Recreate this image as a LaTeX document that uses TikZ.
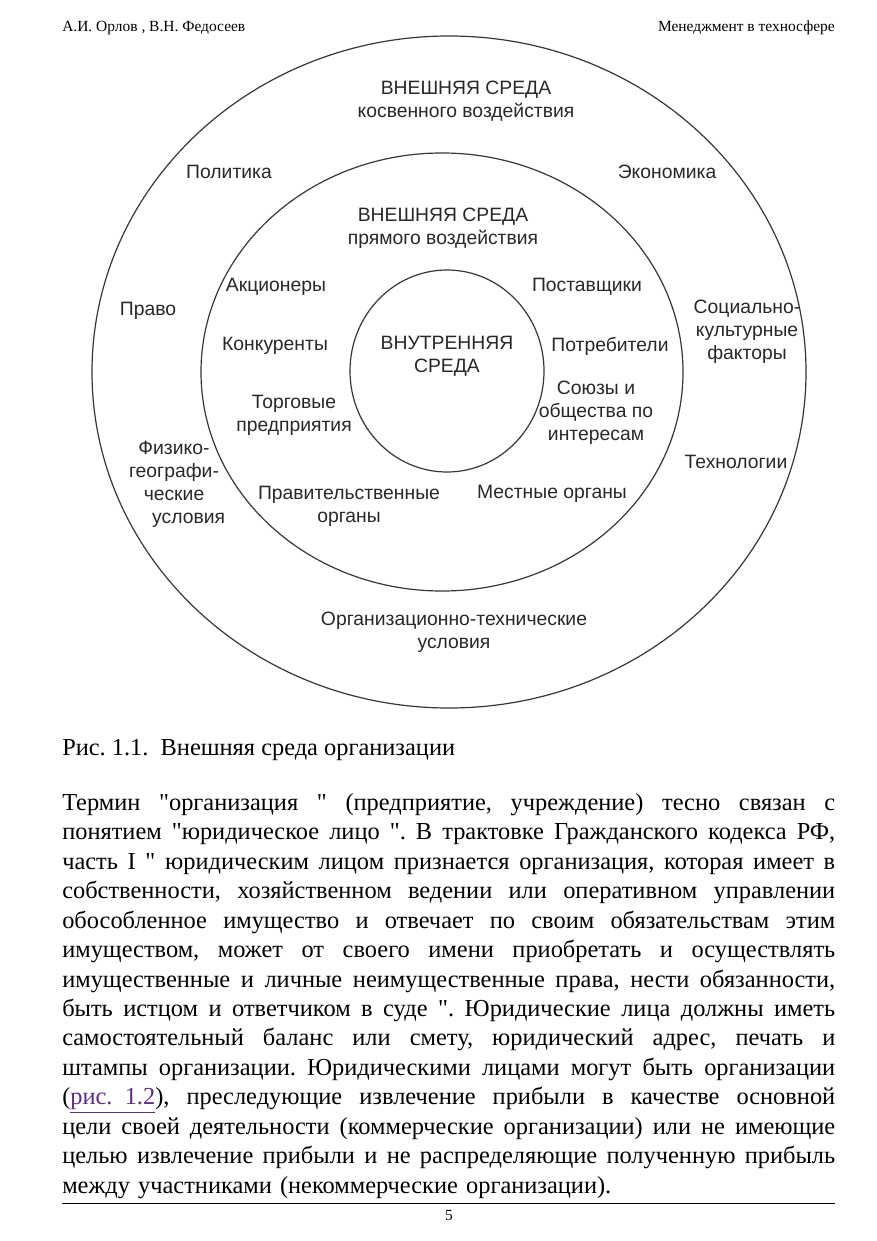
\documentclass[tikz,border=0pt]{standalone}
\usepackage{fontspec}
\setmainfont{Liberation Serif}[Ligatures=TeXOff]
\newfontfamily\labelfont{Liberation Sans}
\usepackage{tikz}
\usetikzlibrary{positioning}
\definecolor{ringgrey}{RGB}{55,55,55}
\definecolor{labelgrey}{RGB}{40,40,40}
\definecolor{linkpurple}{RGB}{95,45,125}
\newlength{\bodywidth}
\setlength{\bodywidth}{579.75pt}
\newcommand{\fullline}[1]{\makebox[\bodywidth][s]{\spaceskip=0pt\xspaceskip=0pt #1}}
\frenchspacing

\begin{document}
\begin{tikzpicture}[x=0.75pt,y=-0.75pt,every node/.style={inner sep=0pt},
  lbl/.style={font=\labelfont\fontsize{14.5}{17.3}\selectfont,text=labelgrey,align=center},
  ring/.style={draw=ringgrey,line width=0.9pt},
  pagefont/.style={font=\fontsize{11.6}{13}\selectfont}]
  \path[use as bounding box,fill=white] (0,0) rectangle (877,1241);
  % header
  \node[pagefont,anchor=base west] (authors) at (62,32) {А.И. Орлов , В.Н. Федосеев};
  \node[pagefont,anchor=base east] (booktitle) at (835,32) {Менеджмент в техносфере};
  % three rings
  \draw[ring] (449,372) ellipse [x radius=357,y radius=336];
  \draw[ring] (442,372) ellipse [x radius=241,y radius=219];
  \draw[ring] (447,371) ellipse [x radius=97,y radius=101];
  \foreach \n/\x/\y/\t in {indirect/466/101/ВНЕШНЯЯ СРЕДА\\косвенного воздействия,
      politics/229/172/Политика, economy/667/172/Экономика,
      direct/443/228/ВНЕШНЯЯ СРЕДА\\прямого воздействия,
      holders/276/287/Акционеры, suppliers/587/287/Поставщики, law/148/311/Право,
      social/747/332/Социально-\\культурные\\факторы,
      rivals/275/346/Конкуренты, internal/447/356/ВНУТРЕННЯЯ\\СРЕДА,
      consumers/610/346/Потребители, trade/294/415/Торговые\\предприятия,
      unions/596/413/Союзы и\\общества по\\интересам,
      techno/736/462/Технологии, government/349/506/Правительственные\\органы,
      local/552/494/Местные органы,
      orgtech/454/632/Организационно-технические\\условия}
    \node[lbl] (\n) at (\x,\y) {\t};
  \node[lbl] (physgeo) at (174,484) {Физико-\\географи-\\ческие\\\hspace*{22pt}условия};
  % caption and text
  \node[anchor=base west,font=\fontsize{18.3}{22}\selectfont] (caption) at (62,755) {Рис. 1.1.\ \ Внешняя среда организации};
  \node[anchor=north west,text width=\bodywidth,align=left,font=\fontsize{18.3}{22.1}\selectfont] (body) at (62,793) {%
    \fullline{Термин "организация " (предприятие, учреждение) тесно связан с}\\
    \fullline{понятием "юридическое лицо ". В трактовке Гражданского кодекса РФ,}\\
    \fullline{часть I " юридическим лицом признается организация, которая имеет в}\\
    \fullline{собственности, хозяйственном ведении или оперативном управлении}\\
    \fullline{обособленное имущество и отвечает по своим обязательствам этим}\\
    \fullline{имуществом, может от своего имени приобретать и осуществлять}\\
    \fullline{имущественные и личные неимущественные права, нести обязанности,}\\
    \fullline{быть истцом и ответчиком в суде ". Юридические лица должны иметь}\\
    \fullline{самостоятельный баланс или смету, юридический адрес, печать и}\\
    \fullline{штампы организации. Юридическими лицами могут быть организации}\\
    \fullline{(\textcolor{linkpurple}{\underline{рис.\ \ 1.2}}), преследующие извлечение прибыли в качестве основной}\\
    \fullline{цели своей деятельности (коммерческие организации) или не имеющие}\\
    \fullline{целью извлечение прибыли и не распределяющие полученную прибыль}\\
    между участниками (некоммерческие организации).};
  % footer
  \coordinate (ruleL) at (62,1203);
  \coordinate (ruleR) at (835,1203);
  \draw[line width=0.6pt] (ruleL) -- (ruleR);
  \node[pagefont,anchor=base] (pageno) at (449,1220) {5};
\end{tikzpicture}
\end{document}
